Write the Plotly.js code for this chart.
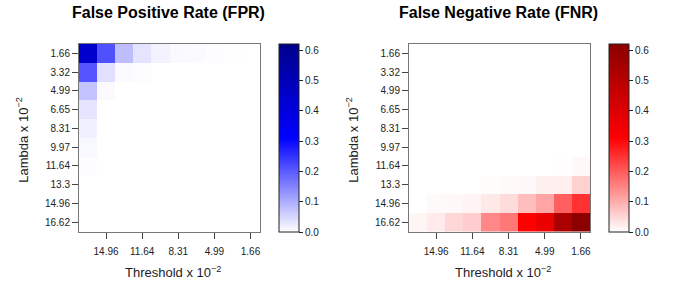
<!DOCTYPE html>
<html><head><meta charset="utf-8">
<script src="https://cdn.plot.ly/plotly-3.0.1.min.js"></script>
<style>body{margin:0;padding:0;background:#fff}#c{width:678px;height:283px}</style>
</head><body><div id="c"></div>
<script>
const thresholds = ["16.62","14.96","13.3","11.64","9.97","8.31","6.65","4.99","3.32","1.66"];
const lambdas = ["1.66","3.32","4.99","6.65","8.31","9.97","11.64","13.3","14.96","16.62"];
const xTickLabels = ["14.96","11.64","8.31","4.99","1.66"];

// rows = lambda (top to bottom), columns = threshold (left to right)
const fpr = [
  [0.444,0.213,0.079,0.033,0.015,0.007,0.005,0.002,0.001,0],
  [0.207,0.036,0.006,0.002,0,0,0,0,0,0],
  [0.073,0.006,0,0,0,0,0,0,0,0],
  [0.033,0,0,0,0,0,0,0,0,0],
  [0.018,0,0,0,0,0,0,0,0,0],
  [0.009,0,0,0,0,0,0,0,0,0],
  [0.002,0,0,0,0,0,0,0,0,0],
  [0,0,0,0,0,0,0,0,0,0],
  [0,0,0,0,0,0,0,0,0,0],
  [0,0,0,0,0,0,0,0,0,0]
];
const fnr = [
  [0,0,0,0,0,0,0,0,0,0],
  [0,0,0,0,0,0,0,0,0,0],
  [0,0,0,0,0,0,0,0,0,0],
  [0,0,0,0,0,0,0,0,0,0],
  [0,0,0,0,0,0,0,0,0,0],
  [0,0,0,0,0,0,0,0,0,0],
  [0,0,0,0,0,0,0,0,0.002,0.008],
  [0,0,0,0,0.004,0.006,0.009,0.018,0.021,0.057],
  [0,0.006,0.008,0.015,0.028,0.043,0.079,0.109,0.195,0.25],
  [0.012,0.024,0.049,0.061,0.146,0.164,0.31,0.363,0.537,0.615]
];

(function(){
const W = 678, H = 283;
const font = "Liberation Sans, Arial, sans-serif";
const pTop = 44, pBottom = 231.5;
const L1 = [79, 259.5], L2 = [409, 590];
const px = v => v / W, py = v => 1 - v / H;

function cb(x) {
  return {x: px(x), xanchor: 'left', xpad: 0, ypad: 0, y: py(pTop), yanchor: 'top',
    len: pBottom - pTop + 0.5, lenmode: 'pixels', thickness: 20, thicknessmode: 'pixels',
    outlinewidth: 1, outlinecolor: '#222', ticks: 'outside', ticklen: 4, tickcolor: '#222',
    tick0: 0, dtick: 0.1, tickformat: '.1f', tickfont: {family: font, size: 10, color: '#222'}};
}

const traces = [
  {type: 'heatmap', x: thresholds, y: lambdas, z: fpr, xaxis: 'x', yaxis: 'y',
   zmin: 0, zmax: 0.62, colorscale: [[0,'#ffffff'],[0.5,'#0000ff'],[1,'#00008b']],
   colorbar: cb(279), hoverinfo: 'skip'},
  {type: 'heatmap', x: thresholds, y: lambdas, z: fnr, xaxis: 'x2', yaxis: 'y2',
   zmin: 0, zmax: 0.62, colorscale: [[0,'#ffffff'],[0.5,'#ff0000'],[1,'#8b0000']],
   colorbar: cb(609), hoverinfo: 'skip'}
];

function xa(d, anchor) {
  return {domain: [px(d[0]), px(d[1])], anchor: anchor, type: 'category',
    categoryorder: 'array', categoryarray: thresholds,
    tickvals: xTickLabels, ticktext: xTickLabels, ticks: 'outside', ticklen: 6,
    tickcolor: '#444', showline: true, mirror: true, linecolor: '#777', linewidth: 1,
    showgrid: false, zeroline: false, ticklabelstandoff: 4, automargin: false,
    tickfont: {family: font, size: 10, color: '#222'}};
}
function ya(anchor) {
  return {domain: [py(pBottom), py(pTop)], anchor: anchor, type: 'category',
    categoryorder: 'array', categoryarray: lambdas, autorange: 'reversed',
    ticks: 'outside', ticklen: 6, tickcolor: '#444', showline: true, mirror: true,
    linecolor: '#777', linewidth: 1, showgrid: false, zeroline: false, automargin: false,
    ticklabelstandoff: 0, tickfont: {family: font, size: 10, color: '#222'}};
}

const ann = [];
function titles(d, t) {
  const cx = (d[0] + d[1]) / 2;
  ann.push({text: '<b>' + t + '</b>', x: px(cx - 1), y: py(13), xref: 'paper', yref: 'paper',
    showarrow: false, xanchor: 'center', yanchor: 'middle', font: {family: font, size: 16, color: '#000'}});
  ann.push({text: 'Threshold x 10<sup>−2</sup>', x: px(cx + 4), y: py(272), xref: 'paper', yref: 'paper',
    showarrow: false, xanchor: 'center', yanchor: 'middle', font: {family: font, size: 13, color: '#222'}});
  ann.push({text: 'Lambda x 10<sup>−2</sup>', x: px(d[0] - 57), y: py((pTop + pBottom) / 2 + 2), xref: 'paper', yref: 'paper',
    showarrow: false, xanchor: 'center', yanchor: 'middle', textangle: -90, font: {family: font, size: 13, color: '#222'}});
}
titles(L1, 'False Positive Rate (FPR)');
titles(L2, 'False Negative Rate (FNR)');

const layout = {width: W, height: H, margin: {l: 0, r: 0, t: 0, b: 0},
  paper_bgcolor: '#fff', plot_bgcolor: '#fff', showlegend: false,
  xaxis: xa(L1, 'y'), yaxis: ya('x'), xaxis2: xa(L2, 'y2'), yaxis2: ya('x2'),
  annotations: ann, font: {family: font}};

Plotly.newPlot('c', traces, layout, {staticPlot: true, displayModeBar: false});
})();
</script></body></html>
